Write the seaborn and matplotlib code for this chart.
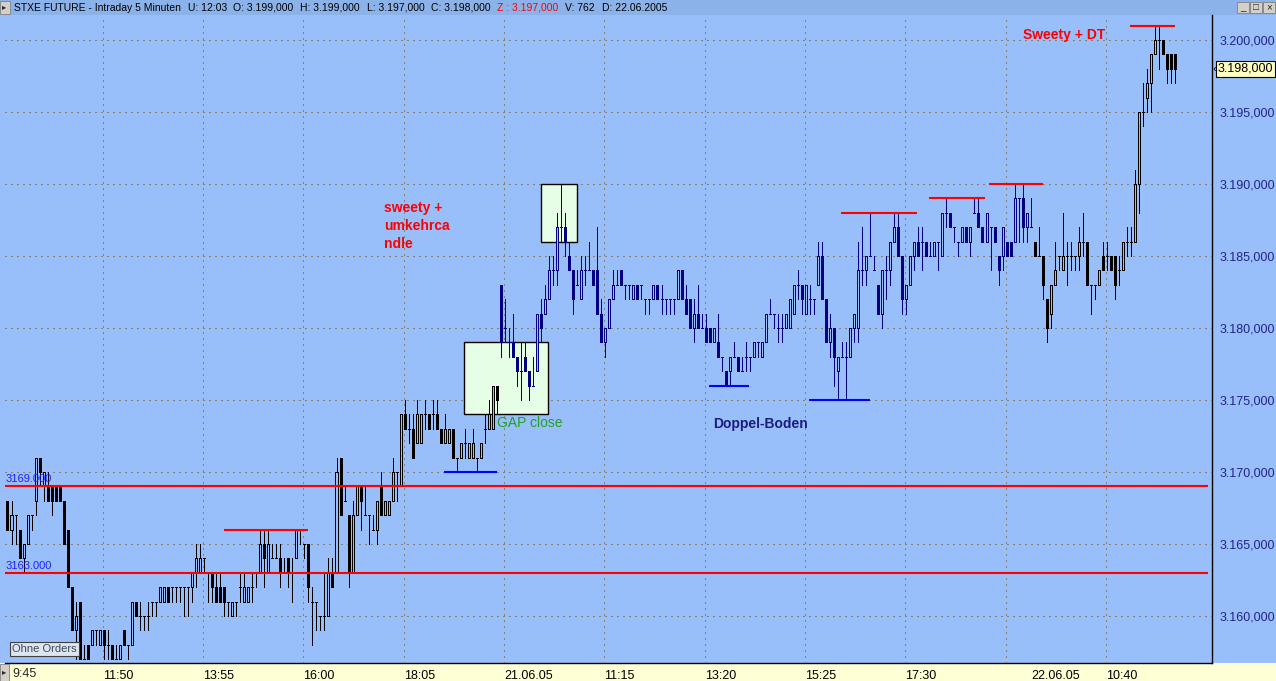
import numpy as np
import matplotlib
matplotlib.use("Agg")
import matplotlib.pyplot as plt
from matplotlib.patches import Rectangle
from matplotlib.transforms import blended_transform_factory
import seaborn as sns

# 5-minute candles (index = bar number)
opens = [
    3168, 3166, 3167, 3166, 3164, 3165, 3167, 3168, 3171, 3169, 3169, 3169, 3169, 3169, 3168, 3166, 3162, 3159, 3161, 3157,
    3158, 3158, 3159, 3158, 3159, 3158, 3158, 3157, 3157, 3159, 3158, 3158, 3161, 3160, 3160, 3160, 3161, 3161, 3161, 3161,
    3162, 3162, 3162, 3162, 3162, 3162, 3162, 3163, 3163, 3164, 3163, 3163, 3162, 3162, 3162, 3161, 3160, 3161, 3162, 3161,
    3161, 3162, 3163, 3163, 3165, 3163, 3164, 3164, 3164, 3163, 3164, 3163, 3164, 3166, 3165, 3165, 3161, 3161, 3160, 3160,
    3160, 3163, 3163, 3171, 3168, 3167, 3163, 3167, 3169, 3167, 3167, 3166, 3166, 3169, 3167, 3167, 3168, 3170, 3169, 3174,
    3173, 3173, 3172, 3172, 3174, 3174, 3174, 3174, 3173, 3172, 3172, 3173, 3171, 3171, 3172, 3171, 3171, 3171, 3171, 3173,
    3173, 3173, 3176,
    3183, 3180, 3179, 3179, 3178, 3177, 3178, 3177, 3176, 3177, 3181, 3181, 3182, 3184, 3184, 3187, 3187,
    3185, 3184, 3183, 3182, 3184, 3184, 3184, 3184, 3181, 3179, 3180, 3182, 3183, 3184, 3183, 3183, 3182, 3183, 3183, 3182,
    3182, 3182, 3183, 3182, 3182, 3182, 3182, 3182, 3184, 3182, 3182, 3180, 3181, 3180, 3180, 3180, 3179, 3179, 3178, 3177,
    3177, 3178, 3178, 3177, 3178, 3178, 3178, 3179, 3178, 3179, 3181, 3181, 3180, 3180, 3180, 3180, 3181, 3183, 3183, 3181,
    3182, 3182, 3183, 3185, 3182, 3179, 3180, 3177, 3178, 3178, 3178, 3180, 3180, 3184, 3184, 3185, 3184, 3183, 3181, 3184,
    3184, 3186, 3187, 3185, 3182, 3183, 3185, 3186, 3186, 3186, 3185, 3185, 3186, 3185, 3188, 3188, 3187, 3186, 3186, 3187,
    3186, 3188, 3188, 3187, 3186, 3187, 3187, 3185, 3185, 3186, 3186, 3186, 3189, 3189, 3187, 3187,
    3186, 3185, 3185, 3182, 3181, 3183, 3185, 3184, 3185, 3185, 3185, 3185, 3186, 3186, 3183, 3183, 3183, 3185, 3185, 3185,
    3185, 3184, 3184, 3186, 3186, 3186, 3190, 3195, 3196, 3197, 3199, 3200, 3200, 3199, 3199, 3199,
]
highs = [
    3168, 3168, 3167, 3166, 3165, 3167, 3167, 3171, 3171, 3170, 3170, 3169, 3169, 3169, 3168, 3166, 3162, 3161, 3161, 3158,
    3158, 3159, 3159, 3159, 3159, 3159, 3158, 3158, 3158, 3159, 3158, 3161, 3161, 3161, 3160, 3161, 3161, 3161, 3162, 3162,
    3162, 3162, 3162, 3162, 3162, 3162, 3163, 3165, 3165, 3164, 3163, 3163, 3163, 3163, 3162, 3161, 3161, 3161, 3163, 3163,
    3162, 3163, 3163, 3166, 3166, 3166, 3165, 3165, 3165, 3164, 3164, 3164, 3166, 3166, 3165, 3165, 3162, 3161, 3160, 3163,
    3164, 3164, 3171, 3171, 3169, 3167, 3168, 3169, 3169, 3169, 3167, 3167, 3168, 3170, 3168, 3168, 3171, 3170, 3174, 3175,
    3174, 3174, 3175, 3174, 3175, 3174, 3175, 3175, 3173, 3174, 3173, 3173, 3171, 3172, 3173, 3172, 3173, 3171, 3172, 3174,
    3175, 3176, 3176,
    3183, 3182, 3180, 3181, 3178, 3179, 3179, 3177, 3178, 3181, 3182, 3183, 3185, 3185, 3188, 3190, 3188,
    3186, 3184, 3184, 3185, 3185, 3186, 3184, 3187, 3182, 3180, 3182, 3184, 3184, 3184, 3183, 3183, 3183, 3183, 3183, 3182,
    3182, 3183, 3183, 3183, 3182, 3182, 3182, 3184, 3184, 3183, 3182, 3182, 3183, 3181, 3181, 3180, 3180, 3181, 3178, 3177,
    3178, 3179, 3178, 3178, 3179, 3178, 3179, 3179, 3179, 3181, 3182, 3181, 3181, 3181, 3181, 3182, 3183, 3184, 3183, 3183,
    3183, 3182, 3186, 3186, 3182, 3181, 3180, 3178, 3179, 3179, 3180, 3181, 3186, 3187, 3185, 3188, 3185, 3183, 3184, 3185,
    3186, 3188, 3188, 3185, 3183, 3185, 3186, 3187, 3187, 3186, 3186, 3186, 3186, 3188, 3189, 3188, 3187, 3186, 3187, 3187,
    3187, 3189, 3189, 3187, 3188, 3187, 3187, 3185, 3187, 3186, 3186, 3190, 3189, 3190, 3188, 3189,
    3186, 3187, 3185, 3182, 3183, 3186, 3185, 3188, 3186, 3186, 3185, 3187, 3188, 3186, 3183, 3183, 3184, 3186, 3186, 3185,
    3185, 3185, 3186, 3187, 3187, 3191, 3195, 3197, 3198, 3199, 3201, 3201, 3200, 3199, 3199, 3199,
]
lows = [
    3166, 3165, 3165, 3164, 3163, 3165, 3166, 3167, 3169, 3168, 3168, 3167, 3168, 3168, 3165, 3162, 3159, 3157, 3157, 3157,
    3157, 3158, 3158, 3158, 3157, 3157, 3157, 3157, 3157, 3158, 3157, 3158, 3160, 3159, 3159, 3159, 3160, 3160, 3161, 3161,
    3161, 3161, 3161, 3161, 3160, 3160, 3161, 3162, 3163, 3163, 3161, 3161, 3161, 3161, 3160, 3160, 3160, 3160, 3161, 3161,
    3161, 3161, 3162, 3163, 3162, 3163, 3164, 3164, 3162, 3163, 3162, 3161, 3164, 3165, 3164, 3161, 3158, 3159, 3159, 3159,
    3160, 3162, 3163, 3167, 3168, 3162, 3163, 3167, 3166, 3167, 3165, 3166, 3165, 3167, 3167, 3167, 3168, 3168, 3169, 3173,
    3172, 3171, 3172, 3172, 3173, 3173, 3173, 3173, 3172, 3172, 3172, 3171, 3170, 3171, 3171, 3171, 3171, 3170, 3171, 3172,
    3173, 3173, 3174,
    3178, 3179, 3178, 3178, 3176, 3175, 3177, 3175, 3176, 3177, 3179, 3181, 3182, 3183, 3183, 3186, 3185,
    3184, 3181, 3183, 3182, 3183, 3184, 3183, 3181, 3179, 3178, 3180, 3182, 3183, 3183, 3182, 3182, 3182, 3182, 3182, 3181,
    3181, 3182, 3182, 3181, 3181, 3181, 3181, 3182, 3182, 3181, 3180, 3179, 3180, 3180, 3179, 3179, 3179, 3178, 3177, 3176,
    3176, 3178, 3177, 3177, 3177, 3177, 3178, 3178, 3178, 3179, 3181, 3180, 3179, 3179, 3180, 3180, 3181, 3182, 3181, 3181,
    3181, 3181, 3183, 3182, 3179, 3178, 3176, 3175, 3178, 3175, 3178, 3179, 3179, 3183, 3183, 3185, 3184, 3181, 3180, 3182,
    3183, 3186, 3185, 3181, 3181, 3183, 3184, 3185, 3184, 3185, 3185, 3185, 3184, 3185, 3187, 3187, 3186, 3185, 3186, 3186,
    3185, 3188, 3187, 3186, 3186, 3184, 3186, 3183, 3184, 3185, 3185, 3186, 3186, 3186, 3186, 3187,
    3185, 3185, 3182, 3179, 3180, 3183, 3184, 3184, 3183, 3184, 3184, 3184, 3185, 3183, 3181, 3182, 3183, 3184, 3184, 3184,
    3182, 3183, 3184, 3185, 3185, 3186, 3188, 3194, 3195, 3195, 3199, 3198, 3199, 3197, 3197, 3197,
]
closes = [
    3166, 3167, 3167, 3164, 3165, 3167, 3167, 3171, 3170, 3170, 3168, 3168, 3168, 3168, 3165, 3162, 3159, 3160, 3157, 3157,
    3157, 3159, 3159, 3159, 3158, 3158, 3157, 3157, 3158, 3158, 3158, 3161, 3160, 3160, 3160, 3160, 3161, 3161, 3162, 3162,
    3161, 3162, 3162, 3162, 3162, 3162, 3163, 3164, 3164, 3164, 3163, 3162, 3161, 3161, 3161, 3161, 3161, 3161, 3162, 3162,
    3162, 3162, 3163, 3165, 3164, 3165, 3164, 3164, 3163, 3163, 3163, 3163, 3166, 3166, 3165, 3162, 3161, 3161, 3160, 3160,
    3163, 3162, 3170, 3167, 3168, 3163, 3167, 3169, 3168, 3167, 3167, 3166, 3168, 3167, 3168, 3168, 3170, 3170, 3174, 3173,
    3173, 3171, 3174, 3174, 3174, 3173, 3174, 3173, 3172, 3173, 3173, 3171, 3171, 3172, 3172, 3172, 3172, 3171, 3172, 3173,
    3174, 3176, 3175,
    3179, 3180, 3179, 3178, 3177, 3177, 3177, 3176, 3176, 3181, 3180, 3182, 3184, 3184, 3187, 3187, 3186,
    3184, 3182, 3183, 3184, 3184, 3184, 3183, 3181, 3179, 3180, 3182, 3183, 3183, 3183, 3183, 3183, 3183, 3182, 3183, 3182,
    3182, 3183, 3182, 3182, 3182, 3182, 3182, 3184, 3182, 3181, 3180, 3181, 3180, 3180, 3179, 3179, 3180, 3178, 3178, 3176,
    3178, 3178, 3177, 3177, 3178, 3178, 3179, 3179, 3179, 3181, 3181, 3181, 3180, 3180, 3181, 3182, 3183, 3183, 3182, 3183,
    3182, 3182, 3185, 3182, 3179, 3180, 3178, 3178, 3178, 3178, 3180, 3181, 3184, 3184, 3185, 3185, 3184, 3181, 3184, 3184,
    3186, 3187, 3185, 3182, 3183, 3185, 3186, 3185, 3186, 3185, 3185, 3186, 3186, 3188, 3188, 3187, 3187, 3186, 3187, 3186,
    3187, 3188, 3187, 3186, 3188, 3187, 3186, 3184, 3187, 3185, 3185, 3189, 3189, 3187, 3188, 3187,
    3185, 3185, 3183, 3180, 3183, 3184, 3185, 3185, 3185, 3185, 3185, 3186, 3186, 3183, 3183, 3183, 3184, 3184, 3185, 3184,
    3183, 3184, 3186, 3186, 3186, 3190, 3195, 3195, 3197, 3199, 3200, 3200, 3199, 3198, 3198, 3198,
]

day_starts = [0, 123, 256]
day_colors = ['#000000', '#000080', '#000000']

tick_pos = [23.75, 48.75, 73.75, 98.75, 123.75, 148.75, 173.75, 198.75, 223.75, 248.75, 255.2, 273.75]
tick_labels = ['11:50', '13:55', '16:00', '18:05', '21.06.05', '11:15', '13:20', '15:25', '17:30', '', '22.06.05', '10:40']
price_ticks = [3160, 3165, 3170, 3175, 3180, 3185, 3190, 3195, 3200]

# drawn lines: price, first bar, last bar
full_levels = [3169, 3163]
red_levels = [3166, 3188, 3189, 3190, 3201]
red_from = [53.9, 207.8, 229.7, 244.6, 279.8]
red_to = [74.9, 226.7, 243.6, 258.1, 291.0]
blue_levels = [3170, 3176, 3175]
blue_from = [108.8, 174.8, 199.8]
blue_to = [122.0, 184.8, 215.0]

# highlight boxes: first bar, last bar, low, high
boxes = [(113.8, 134.7, 3174, 3179), (133.0, 142.0, 3186, 3190)]
last_price = 3198

BG = '#99bffb'
HEAD = '#8cb2ea'
YELLOW = '#ffffd6'
GRID = '#8a8070'
W, H = 1276, 681
PX = 0.72  # one pixel in points

sns.set_style("white")
plt.rcParams['font.family'] = ['Liberation Sans', 'DejaVu Sans']


def fx(px):
    return px / W


def fy(py):
    return 1 - py / H


fig = plt.figure(figsize=(W / 100, H / 100), dpi=100, facecolor=YELLOW)
# window background pieces
fig.add_artist(Rectangle((0, fy(663)), 1, (663 - 15) / H, transform=fig.transFigure,
                         facecolor=BG, edgecolor='none', zorder=0))
fig.add_artist(Rectangle((0, fy(15)), 1, 15 / H, transform=fig.transFigure,
                         facecolor=HEAD, edgecolor='none', zorder=0))

ax = fig.add_axes([fx(5), fy(663), (1212 - 5) / W, (663 - 15) / H])
ax.set_facecolor(BG)

o = np.array(opens, dtype=float)
h = np.array(highs, dtype=float)
l = np.array(lows, dtype=float)
c = np.array(closes, dtype=float)
k = np.arange(len(o))

col = np.empty(len(o), dtype=object)
for s, color in zip(day_starts, day_colors):
    col[s:] = color

hi = np.maximum(h, np.maximum(o, c))
lo = np.minimum(l, np.minimum(o, c))
ax.vlines(k, lo, hi, colors=list(col), lw=PX, zorder=3, antialiased=False)
faces = [cc if cl < op else BG for cc, cl, op in zip(col, c, o)]
ax.bar(k, np.abs(c - o), bottom=np.minimum(o, c), width=0.5, color=faces,
       edgecolor=list(col), linewidth=PX, zorder=4, antialiased=False)

# grid
for p in price_ticks:
    ax.axhline(p, color=GRID, lw=PX, ls=(0, (1.4, 5)), zorder=1, antialiased=False)
for t, lab in zip(tick_pos, tick_labels):
    if lab != '22.06.05':
        ax.axvline(t, color=GRID, lw=PX, ls=(0, (1.4, 5)), zorder=1, antialiased=False)

# boxes
for x0, x1, y0, y1 in boxes:
    ax.add_patch(Rectangle((x0, y0), x1 - x0, y1 - y0, facecolor='#e6fde6',
                           edgecolor='black', lw=1.0, zorder=2))

# lines
for p in full_levels:
    ax.hlines(p, -0.6, 299.2, color='#ff0000', lw=1.5, zorder=5)
ax.hlines(red_levels, red_from, red_to, color='#ff0000', lw=1.5, zorder=5)
ax.hlines(blue_levels, blue_from, blue_to, color='#0000ff', lw=1.5, zorder=5)

ax.set_xlim(-0.62, 300.2)
ax.set_ylim(3156.74, 3201.74)

ax.set_xticks(tick_pos)
ax.set_xticklabels(tick_labels, ha='left')
ax.tick_params(axis='x', direction='out', length=4, width=0.8, pad=1, labelsize=9, colors='black')
ax.yaxis.tick_right()
ax.set_yticks(price_ticks)
ax.set_yticklabels([f"3.{p - 3000:03d},000" for p in price_ticks])
ax.tick_params(axis='y', direction='out', length=4, width=0.8, pad=1.5, labelsize=9, colors='black')
ax.tick_params(axis='y', labelcolor='#23238c')
sns.despine(ax=ax, left=True, top=True, right=False, bottom=False)
for side in ['right', 'bottom']:
    ax.spines[side].set_color('black')
    ax.spines[side].set_linewidth(1.0)

# annotations
ax.text(93.85, 3188.33, 'sweety +', color='#ff0000', fontsize=10, fontweight='bold', va='center')
ax.text(93.85, 3187.08, 'umkehrca', color='#ff0000', fontsize=10, fontweight='bold', va='center')
ax.text(93.85, 3185.83, 'ndle', color='#ff0000', fontsize=10, fontweight='bold', va='center')
ax.text(253.1, 3200.35, 'Sweety + DT', color='#ff0000', fontsize=10, fontweight='bold', va='center')
ax.text(175.8, 3173.33, 'Doppel-Boden', color='#1c1c80', fontsize=10, fontweight='bold', va='center')
ax.text(122.0, 3173.4, 'GAP close', color='#23a023', fontsize=10, va='center', zorder=6)
ax.text(-0.6, 3169.55, '3169.000', color='#2020ff', fontsize=8, va='center', zorder=6)
ax.text(-0.6, 3163.5, '3163.000', color='#2020ff', fontsize=8, va='center', zorder=6)

tr = blended_transform_factory(ax.transAxes, ax.transData)
ax.text(1.0045, last_price, '3.198,000', transform=tr, fontsize=9, color='black', va='center',
        clip_on=False, bbox=dict(boxstyle='square,pad=0.15', facecolor='#ffffc0', edgecolor='black', lw=0.8))
ax.text(1.0005, last_price, '\u2039', transform=tr, fontsize=8, color='black', va='center', clip_on=False)

# header
fig.add_artist(Rectangle((0, fy(14)), fx(10), 13 / H, transform=fig.transFigure,
                         facecolor='#d4d0c8', edgecolor='#808080', lw=0.6))
fig.text(fx(2), fy(7.5), '\u25b8', fontsize=6, va='center')
head_x = [14, 188, 233, 300, 367, 431, 497, 565, 602]
head_txt = ['STXE FUTURE - Intraday 5 Minuten', 'U: 12:03', 'O: 3.199,000', 'H: 3.199,000',
            'L: 3.197,000', 'C: 3.198,000', 'Z : 3.197,000', 'V: 762', 'D: 22.06.2005']
for x, s in zip(head_x, head_txt):
    fig.text(fx(x), fy(8), s, fontsize=7.5, va='center', color='#ff0000' if s.startswith('Z') else 'black')
for x, s in zip([1237, 1250, 1263], ['_', '\u25a1', '\u00d7']):
    fig.add_artist(Rectangle((fx(x), fy(13)), fx(12), 11 / H, transform=fig.transFigure,
                             facecolor='#d4d0c8', edgecolor='#808080', lw=0.6))
    fig.text(fx(x + 6), fy(7.5), s, fontsize=7, ha='center', va='center')

# bottom-left
fig.add_artist(Rectangle((0, 0), fx(9), 17 / H, transform=fig.transFigure,
                         facecolor='#d4d0c8', edgecolor='#808080', lw=0.6))
fig.text(fx(1.5), fy(673), '\u25b8', fontsize=6, va='center')
fig.text(fx(12), fy(674), '9:45', fontsize=9, va='center')
fig.text(fx(12), fy(649), 'Ohne Orders', fontsize=8, color='#3c4a5a', va='center',
         bbox=dict(boxstyle='square,pad=0.2', facecolor='#dde5ee', edgecolor='#404040', lw=0.8))

fig.savefig('out.png', dpi=100, facecolor=YELLOW)
